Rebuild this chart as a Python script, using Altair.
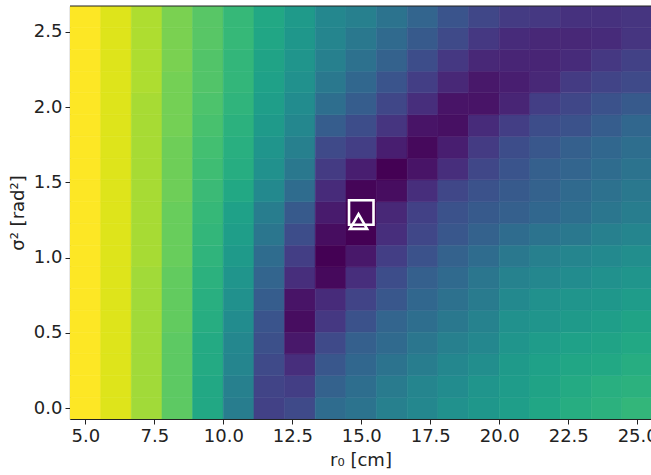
import altair as alt
import pandas as pd

# grid coordinates (cell centres)
r0_cm = [5.000, 6.111, 7.222, 8.333, 9.444, 10.556, 11.667, 12.778, 13.889, 15.000,
         16.111, 17.222, 18.333, 19.444, 20.556, 21.667, 22.778, 23.889, 25.000]
sigma2 = [0.000, 0.144, 0.289, 0.433, 0.578, 0.722, 0.867, 1.011, 1.156, 1.300,
          1.444, 1.589, 1.733, 1.878, 2.022, 2.167, 2.311, 2.456, 2.600]

# normalised cost per row (row index = sigma2 index), columns follow r0_cm
row_00 = [1.0, 0.95, 0.86, 0.75, 0.60, 0.42, 0.19, 0.22, 0.35, 0.38, 0.43, 0.46, 0.50, 0.53, 0.56, 0.59, 0.62, 0.64, 0.66]
row_01 = [1.0, 0.95, 0.86, 0.75, 0.60, 0.43, 0.20, 0.18, 0.31, 0.36, 0.41, 0.45, 0.48, 0.52, 0.55, 0.58, 0.61, 0.63, 0.64]
row_02 = [1.0, 0.95, 0.86, 0.75, 0.61, 0.45, 0.22, 0.13, 0.27, 0.33, 0.38, 0.42, 0.46, 0.49, 0.54, 0.57, 0.59, 0.60, 0.62]
row_03 = [1.0, 0.95, 0.86, 0.75, 0.61, 0.46, 0.24, 0.06, 0.22, 0.30, 0.34, 0.39, 0.43, 0.46, 0.52, 0.55, 0.57, 0.58, 0.60]
row_04 = [1.0, 0.95, 0.86, 0.76, 0.62, 0.48, 0.26, 0.03, 0.16, 0.25, 0.32, 0.36, 0.40, 0.44, 0.50, 0.52, 0.54, 0.56, 0.58]
row_05 = [1.0, 0.95, 0.86, 0.76, 0.63, 0.50, 0.29, 0.05, 0.12, 0.20, 0.27, 0.33, 0.37, 0.41, 0.47, 0.50, 0.52, 0.53, 0.55]
row_06 = [1.0, 0.95, 0.86, 0.76, 0.64, 0.52, 0.32, 0.13, 0.02, 0.13, 0.23, 0.30, 0.34, 0.39, 0.44, 0.46, 0.48, 0.50, 0.52]
row_07 = [1.0, 0.95, 0.87, 0.77, 0.65, 0.54, 0.35, 0.18, 0.00, 0.06, 0.18, 0.25, 0.31, 0.35, 0.40, 0.43, 0.45, 0.47, 0.49]
row_08 = [1.0, 0.95, 0.87, 0.77, 0.66, 0.56, 0.39, 0.23, 0.03, 0.00, 0.13, 0.21, 0.27, 0.31, 0.35, 0.38, 0.40, 0.43, 0.45]
row_09 = [1.0, 0.95, 0.87, 0.77, 0.67, 0.57, 0.42, 0.28, 0.07, 0.00, 0.11, 0.19, 0.25, 0.28, 0.30, 0.33, 0.36, 0.39, 0.42]
row_10 = [1.0, 0.95, 0.87, 0.78, 0.68, 0.60, 0.47, 0.35, 0.12, 0.01, 0.03, 0.13, 0.21, 0.25, 0.28, 0.31, 0.34, 0.37, 0.40]
row_11 = [1.0, 0.95, 0.87, 0.78, 0.69, 0.62, 0.50, 0.40, 0.17, 0.08, 0.00, 0.05, 0.13, 0.21, 0.26, 0.30, 0.32, 0.35, 0.38]
row_12 = [1.0, 0.95, 0.87, 0.78, 0.70, 0.63, 0.52, 0.43, 0.22, 0.18, 0.08, 0.02, 0.08, 0.17, 0.23, 0.27, 0.30, 0.33, 0.36]
row_13 = [1.0, 0.95, 0.87, 0.79, 0.71, 0.64, 0.54, 0.46, 0.29, 0.23, 0.15, 0.05, 0.04, 0.12, 0.18, 0.23, 0.25, 0.29, 0.33]
row_14 = [1.0, 0.95, 0.87, 0.79, 0.72, 0.65, 0.56, 0.48, 0.36, 0.29, 0.21, 0.13, 0.05, 0.05, 0.10, 0.18, 0.21, 0.25, 0.28]
row_15 = [1.0, 0.95, 0.88, 0.79, 0.73, 0.66, 0.57, 0.50, 0.40, 0.33, 0.26, 0.18, 0.11, 0.06, 0.08, 0.11, 0.17, 0.20, 0.22]
row_16 = [1.0, 0.95, 0.88, 0.80, 0.73, 0.66, 0.58, 0.52, 0.43, 0.37, 0.31, 0.23, 0.16, 0.11, 0.10, 0.10, 0.12, 0.16, 0.19]
row_17 = [1.0, 0.95, 0.88, 0.80, 0.74, 0.67, 0.59, 0.53, 0.45, 0.40, 0.34, 0.28, 0.22, 0.16, 0.12, 0.11, 0.11, 0.12, 0.15]
row_18 = [1.0, 0.95, 0.88, 0.80, 0.74, 0.67, 0.60, 0.54, 0.46, 0.43, 0.38, 0.32, 0.26, 0.21, 0.17, 0.16, 0.14, 0.14, 0.15]

rows = [row_00, row_01, row_02, row_03, row_04, row_05, row_06, row_07, row_08, row_09,
        row_10, row_11, row_12, row_13, row_14, row_15, row_16, row_17, row_18]

# estimated optimum (square) and true value (triangle)
est_r0, est_s2 = [15.0], [1.30]
true_r0, true_s2 = [14.9], [1.24]

half_dx = (r0_cm[1] - r0_cm[0]) / 2
half_dy = (sigma2[1] - sigma2[0]) / 2

recs = []
for j, row in enumerate(rows):
    for i, v in enumerate(row):
        recs.append({"x0": r0_cm[i] - half_dx, "x1": r0_cm[i] + half_dx,
                     "y0": sigma2[j] - half_dy, "y1": sigma2[j] + half_dy, "v": v})
grid = pd.DataFrame(recs)

# the original figure is cut at its right edge, just before the last cell ends
xdom = [r0_cm[0] - half_dx, 25.5]
ydom = [sigma2[0] - half_dy, sigma2[-1] + half_dy]

W, H = 581, 413
INK = "#222222"

xs = alt.Scale(domain=xdom, nice=False, zero=False)
ys = alt.Scale(domain=ydom, nice=False, zero=False)
cs = alt.Scale(scheme="viridis", domain=[0, 1])

xaxis = alt.Axis(values=[5, 7.5, 10, 12.5, 15, 17.5, 20, 22.5, 25], format=".1f",
                 title="r₀ [cm]", grid=False, tickSize=5, labelPadding=3, titlePadding=6,
                 domain=True, domainColor=INK, domainWidth=1.2)
yaxis = alt.Axis(values=[0, 0.5, 1.0, 1.5, 2.0, 2.5], format=".1f",
                 title="σ² [rad²]", grid=False, tickSize=5, labelPadding=3, titlePadding=6,
                 domain=True, domainColor=INK, domainWidth=1.2)

heat = alt.Chart(grid).mark_rect(strokeWidth=0.6, clip=True).encode(
    x=alt.X("x0:Q", scale=xs, axis=xaxis),
    x2="x1:Q",
    y=alt.Y("y0:Q", scale=ys, axis=yaxis),
    y2="y1:Q",
    color=alt.Color("v:Q", scale=cs, legend=None),
    stroke=alt.Stroke("v:Q", scale=cs, legend=None),
)

# top spine of the frame
top_spine = alt.Chart(pd.DataFrame({"k": [0]})).mark_rule(color=INK, strokeWidth=1.2).encode(
    x=alt.value(0), x2=alt.value(W), y=alt.value(0)
)

sq = alt.Chart(pd.DataFrame({"x": est_r0, "y": est_s2})).mark_point(
    shape="square", filled=False, size=600, strokeWidth=2.6, color="white", opacity=1
).encode(x=alt.X("x:Q", scale=xs), y=alt.Y("y:Q", scale=ys))

tri = alt.Chart(pd.DataFrame({"x": true_r0, "y": true_s2})).mark_point(
    shape="triangle-up", filled=False, size=290, strokeWidth=2.6, color="white", opacity=1
).encode(x=alt.X("x:Q", scale=xs), y=alt.Y("y:Q", scale=ys))

chart = alt.layer(heat, top_spine, sq, tri).properties(
    width=W, height=H,
    autosize=alt.AutoSizeParams(type="none"),
    padding={"left": 70, "top": 6, "right": 0, "bottom": 56},
).configure_view(stroke=None).configure_axis(
    labelFont="DejaVu Sans", titleFont="DejaVu Sans",
    labelFontSize=18, titleFontSize=18, titleFontWeight="normal",
    labelColor=INK, titleColor=INK, tickColor=INK,
)

chart.save("out.html", embed_options={"renderer": "svg", "actions": False})
